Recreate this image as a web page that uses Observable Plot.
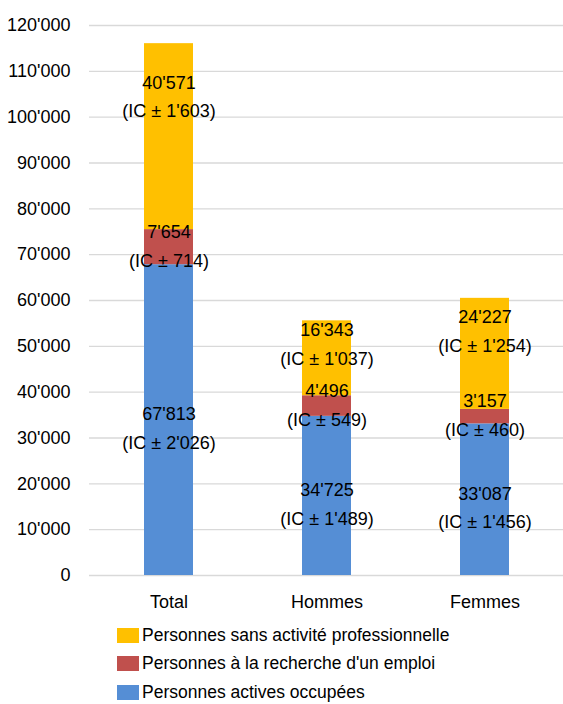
<!DOCTYPE html>
<html><head><meta charset="utf-8">
<script src="https://cdn.jsdelivr.net/npm/d3@7"></script>
<script src="https://cdn.jsdelivr.net/npm/@observablehq/plot@0.6"></script>
<style>
body{margin:0;background:#fff;font-family:"Liberation Sans",Arial,sans-serif;}
#legend{margin-left:117px;margin-top:1px}
.row{display:flex;align-items:center;height:28.5px;font-size:17.5px;color:#000;white-space:nowrap}
.sw{width:22px;height:15px;margin-right:3px;flex:none}
</style></head><body>
<div id="chart"></div><div id="legend"></div>
<script>
const categories = ["Total", "Hommes", "Femmes"];
const series = ["Personnes actives occupées", "Personnes à la recherche d'un emploi", "Personnes sans activité professionnelle"];
const actives = [67813, 34725, 33087];
const activesIC = [2026, 1489, 1456];
const recherche = [7654, 4496, 3157];
const rechercheIC = [714, 549, 460];
const sans = [40571, 16343, 24227];
const sansIC = [1603, 1037, 1254];
const yTicks = [0, 10000, 20000, 30000, 40000, 50000, 60000, 70000, 80000, 90000, 100000, 110000, 120000];
const colors = ["#558ED5", "#C0504D", "#FFC000"];

const fmt = d3.formatLocale({decimal: ".", thousands: "'", grouping: [3], currency: ["", ""]}).format(",");
const values = [actives, recherche, sans];
const ics = [activesIC, rechercheIC, sansIC];
const rows = [];
categories.forEach((c, i) => {
  let base = 0;
  series.forEach((s, k) => {
    const v = values[k][i];
    const ly = k === 2 ? base + 0.73 * v : base + v / 2;
    rows.push({cat: c, series: s, k, y1: base, y2: base + v, ly, label: fmt(v) + "\n(IC ± " + fmt(ics[k][i]) + ")"});
    base += v;
  });
});
const font = '"Liberation Sans",Arial,sans-serif';
const fs = 18;
const lh = 1.6;
const chart = Plot.plot({
  width: 563, height: 620,
  marginLeft: 89, marginRight: 0, marginTop: 25, marginBottom: 45,
  style: {fontFamily: font, color: "#000", background: "#fff"},
  x: {domain: categories, paddingInner: 0.69, paddingOuter: 0.345, label: null},
  y: {domain: [0, 120000], label: null},
  color: {domain: series, range: colors},
  marks: [
    Plot.gridY(yTicks, {stroke: "#d9d9d9", strokeOpacity: 1, strokeWidth: 1.4}),
    Plot.axisY(yTicks, {tickSize: 0, tickPadding: 19, tickFormat: fmt, fontSize: fs, label: null}),
    Plot.axisX({tickSize: 0, tickPadding: 20, fontSize: fs, label: null}),
    Plot.barY(rows, {x: "cat", y1: "y1", y2: "y2", fill: "series"}),
    Plot.text(rows.filter(d => d.k === 2), {x: "cat", y: "ly", text: "label", fontSize: fs, lineHeight: lh, fill: "#000"}),
    Plot.text(rows.filter(d => d.k === 1), {x: "cat", y: "ly", text: "label", fontSize: fs, lineHeight: lh, fill: "#000", dy: -4}),
    Plot.text(rows.filter(d => d.k === 0), {x: "cat", y: "ly", text: "label", fontSize: fs, lineHeight: lh, fill: "#000", dy: 5})
  ]
});
document.getElementById("chart").appendChild(chart);
const legend = document.getElementById("legend");
[2, 1, 0].forEach(k => {
  const r = document.createElement("div");
  r.className = "row";
  const sw = document.createElement("span");
  sw.className = "sw";
  sw.style.background = colors[k];
  const t = document.createElement("span");
  t.textContent = series[k];
  r.appendChild(sw); r.appendChild(t);
  legend.appendChild(r);
});
</script>
</body></html>
